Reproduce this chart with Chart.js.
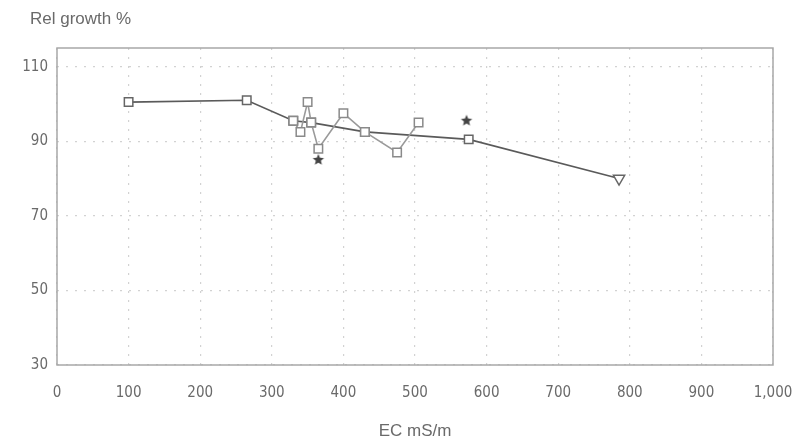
<!DOCTYPE html>
<html>
<head>
<meta charset="utf-8">
<script src="https://cdn.jsdelivr.net/npm/chart.js@4.4.1/dist/chart.umd.min.js"></script>
<style>
  html, body { margin: 0; padding: 0; background: #fff; }
  #wrap { width: 806px; height: 446px; position: relative; }
</style>
</head>
<body>
<div id="wrap"><canvas id="growthChart" width="806" height="446"></canvas></div>
<script>
// main trend: EC (mS/m) vs relative growth (%)
const ecMain = [100, 265, 330, 355, 430, 575, 785];
const growthMain = [100.5, 101, 95.5, 95, 92.5, 90.5, 80];
const mainMarkers = ['rect', 'rect', 'rect', 'rect', 'rect', 'rect', 'triangle'];

// individual sites
const ecSite = [330, 340, 350, 355, 365, 400, 430, 475, 505];
const growthSite = [95.5, 92.5, 100.5, 95, 88, 97.5, 92.5, 87, 95];

// flagged observations
const ecStar = [365, 572];
const growthStar = [85, 95.5];

const xTicks = [0, 100, 200, 300, 400, 500, 600, 700, 800, 900, 1000];
const yTicks = [30, 50, 70, 90, 110];

const toPoints = (xs, ys) => xs.map((x, i) => ({ x: x, y: ys[i] }));

// small filled star for the flagged points
function makeStar(r, color) {
    const c = document.createElement('canvas');
    c.width = c.height = r * 2 + 2;
    const g = c.getContext('2d');
    g.fillStyle = color;
    g.beginPath();
    for (let i = 0; i < 10; i++) {
        const a = -Math.PI / 2 + i * Math.PI / 5;
        const rr = i % 2 === 0 ? r : r * 0.45;
        g.lineTo(c.width / 2 + rr * Math.cos(a), c.height / 2 + rr * Math.sin(a));
    }
    g.closePath();
    g.fill();
    return c;
}

const textColor = '#6a6a6a';
const tickFont = { family: "'DejaVu Sans Condensed', 'Liberation Sans Narrow', 'Liberation Sans', Arial, sans-serif", size: 15 };

// frame around the plot area and the y-axis caption
const framePlugin = {
    id: 'frame',
    afterDraw(chart) {
        const { ctx, chartArea: a } = chart;
        ctx.save();
        ctx.strokeStyle = '#a8a8a8';
        ctx.lineWidth = 1.5;
        ctx.strokeRect(a.left, a.top, a.right - a.left, a.bottom - a.top);
        ctx.fillStyle = textColor;
        ctx.font = "17px 'Liberation Sans', Arial, sans-serif";
        ctx.textBaseline = 'middle';
        ctx.fillText('Rel growth %', 30, 19);
        ctx.restore();
    }
};

const ctx = document.getElementById('growthChart').getContext('2d');
new Chart(ctx, {
    type: 'line',
    data: {
        datasets: [
            {
                label: 'sites',
                data: toPoints(ecSite, growthSite),
                borderColor: '#9a9a9a',
                borderWidth: 1.6,
                pointStyle: 'rect',
                pointRadius: 6,
                pointBackgroundColor: '#fff',
                pointBorderColor: '#8a8a8a',
                pointBorderWidth: 1.5,
                tension: 0
            },
            {
                label: 'trend',
                data: toPoints(ecMain, growthMain),
                borderColor: '#5a5a5a',
                borderWidth: 1.6,
                pointStyle: mainMarkers,
                pointRadius: [6, 6, 6, 6, 6, 6, 6.5],
                rotation: [0, 0, 0, 0, 0, 0, 180],
                pointBackgroundColor: '#fff',
                pointBorderColor: '#666',
                pointBorderWidth: 1.5,
                tension: 0
            },
            {
                label: 'flagged',
                data: toPoints(ecStar, growthStar),
                showLine: false,
                pointStyle: makeStar(6, '#444'),
                pointRadius: 6
            }
        ]
    },
    options: {
        responsive: false,
        animation: false,
        events: [],
        layout: { padding: { top: 48, right: 33, left: 0, bottom: 0 } },
        plugins: {
            legend: { display: false },
            tooltip: { enabled: false }
        },
        scales: {
            x: {
                type: 'linear',
                min: 0,
                max: 1000,
                afterBuildTicks: s => { s.ticks = xTicks.map(v => ({ value: v })); },
                afterFit: s => { s.height = 81; s.paddingLeft = 0; s.paddingRight = 0; },
                grid: { color: '#d2d2d2', lineWidth: 1.2, drawTicks: false },
                border: { display: false, dash: [2, 7] },
                ticks: {
                    color: textColor,
                    font: tickFont,
                    padding: 19,
                    maxRotation: 0,
                    callback: v => v.toLocaleString('en-US')
                },
                title: {
                    display: true,
                    text: 'EC mS/m',
                    color: textColor,
                    font: { family: "'Liberation Sans', Arial, sans-serif", size: 17 },
                    padding: { top: 12 }
                }
            },
            y: {
                min: 30,
                max: 115,
                afterBuildTicks: s => { s.ticks = yTicks.map(v => ({ value: v })); },
                afterFit: s => { s.width = 57; },
                grid: { color: '#d2d2d2', lineWidth: 1.2, drawTicks: false },
                border: { display: false, dash: [2, 7] },
                ticks: { color: textColor, font: tickFont, padding: 9 }
            }
        }
    },
    plugins: [framePlugin]
});
</script>
</body>
</html>
